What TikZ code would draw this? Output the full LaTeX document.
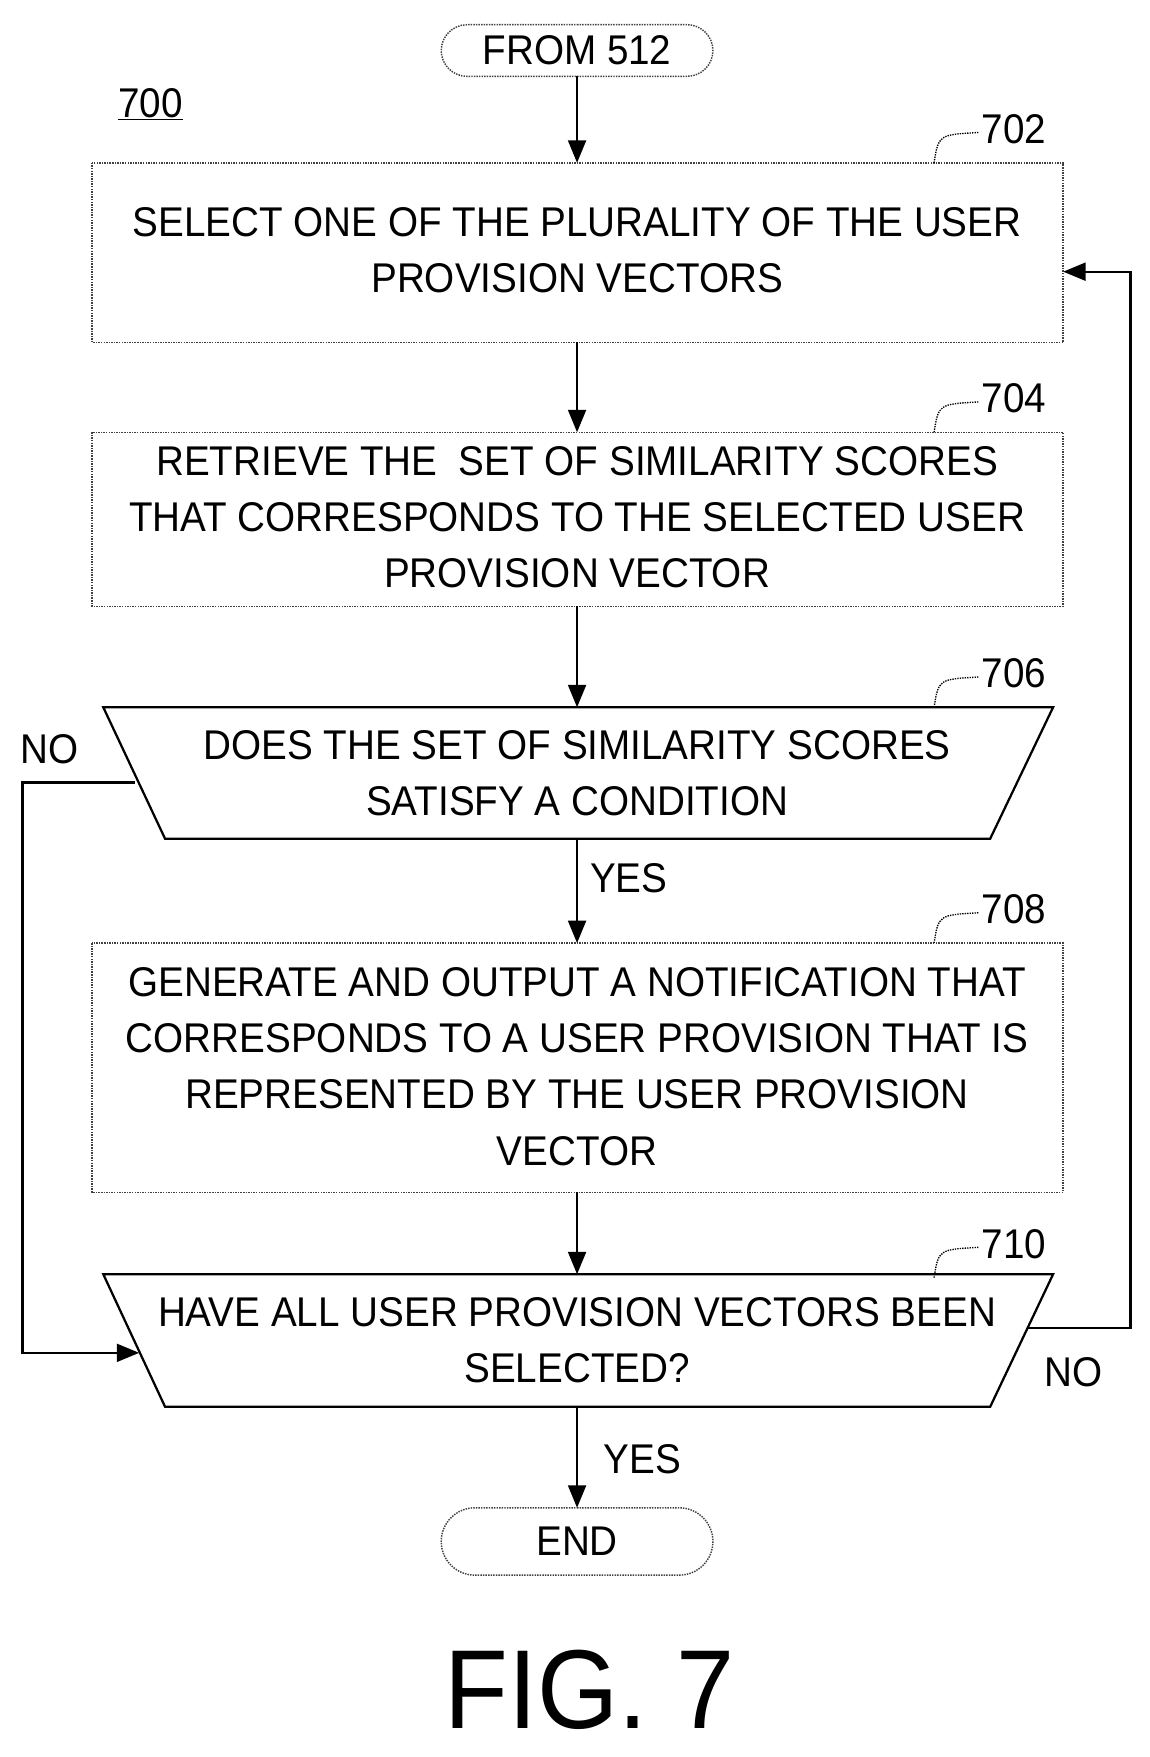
\documentclass[tikz,border=0pt]{standalone}
\usepackage{fontspec}
\setmainfont{Liberation Sans}[FakeStretch=0.93]
\usetikzlibrary{arrows.meta,shapes.misc}
\begin{document}
\begin{tikzpicture}[x=1pt,y=-1pt,
  txt/.style={font=\fontsize{37}{50}\selectfont,align=center,inner sep=0},
  bx/.style={draw=black!75,densely dotted,line width=1.3pt},
  ln/.style={line width=2pt},
  ar/.style={ln,-{Triangle[length=20pt,width=16pt]}},
  ref/.style={font=\fontsize{37}{40}\selectfont,inner sep=0},
  lead/.style={line width=1.2pt,densely dotted}]
\useasboundingbox (0,0) rectangle (1024,1565);
% terminals
\node[bx,rounded rectangle,minimum width=242pt,minimum height=46pt,txt] (s) at (514,45) {FROM 512};
\node[bx,rounded rectangle,minimum width=242pt,minimum height=60pt,txt] (e) at (514,1373) {END};
\node[ref] (l700) at (134,93) {\underline{700}};
% boxes
\draw[bx] (82,145) rectangle (947,305);
\node[txt] (b702) at (514,223) {SELECT ONE OF THE PLURALITY OF THE USER\\PROVISION VECTORS};
\draw[bx] (82,385) rectangle (947,540);
\node[txt] (b704) at (514,461) {RETRIEVE THE\ \ SET OF SIMILARITY SCORES\\THAT CORRESPONDS TO THE SELECTED USER\\PROVISION VECTOR};
\draw[ln] (92,630) -- (938,630) -- (882,747) -- (147,747) -- cycle;
\node[txt] (b706) at (514,689) {DOES THE SET OF SIMILARITY SCORES\\SATISFY A CONDITION};
\draw[bx] (82,840) rectangle (947,1062);
\node[txt] (b708) at (514,950) {GENERATE AND OUTPUT A NOTIFICATION THAT\\CORRESPONDS TO A USER PROVISION THAT IS\\REPRESENTED BY THE USER PROVISION\\VECTOR};
\draw[ln] (92,1135) -- (938,1135) -- (882,1253) -- (147,1253) -- cycle;
\node[txt] (b710) at (514,1194) {HAVE ALL USER PROVISION VECTORS BEEN\\SELECTED?};
% reference labels
\foreach \n/\y in {702/115,704/355,706/600,708/810,710/1108}{
  \node[ref] (r\n) at (903,\y) {\n};
  \draw[lead] (832,\y+30) .. controls (836,\y+5) .. (872,\y+3);
}
% arrows
\coordinate (a1) at (514,68); \coordinate (a2) at (514,145);
\draw[ar] (a1) -- (a2);
\coordinate (a3) at (514,305); \coordinate (a4) at (514,385);
\draw[ar] (a3) -- (a4);
\coordinate (a5) at (514,540); \coordinate (a6) at (514,630);
\draw[ar] (a5) -- (a6);
\coordinate (a7) at (514,747); \coordinate (a8) at (514,840);
\draw[ar] (a7) -- (a8);
\coordinate (a9) at (514,1062); \coordinate (a10) at (514,1135);
\draw[ar] (a9) -- (a10);
\coordinate (a11) at (514,1253); \coordinate (a12) at (514,1343);
\draw[ar] (a11) -- (a12);
\coordinate (n1) at (120,697); \coordinate (n2) at (124,1205);
\draw[ar] (n1) -- (20,697) -- (20,1205) -- (n2);
\coordinate (m1) at (915,1183); \coordinate (m2) at (947,242);
\draw[ar] (m1) -- (1007,1183) -- (1007,242) -- (m2);
\node[ref] (t1) at (44,667) {NO};
\node[ref] (t2) at (956,1222) {NO};
\node[ref] (t3) at (560,782) {YES};
\node[ref] (t4) at (572,1300) {YES};
\node[font=\fontsize{100}{104}\selectfont,inner sep=0] (fig) at (525,1505) {FIG. 7};
\end{tikzpicture}
\end{document}
